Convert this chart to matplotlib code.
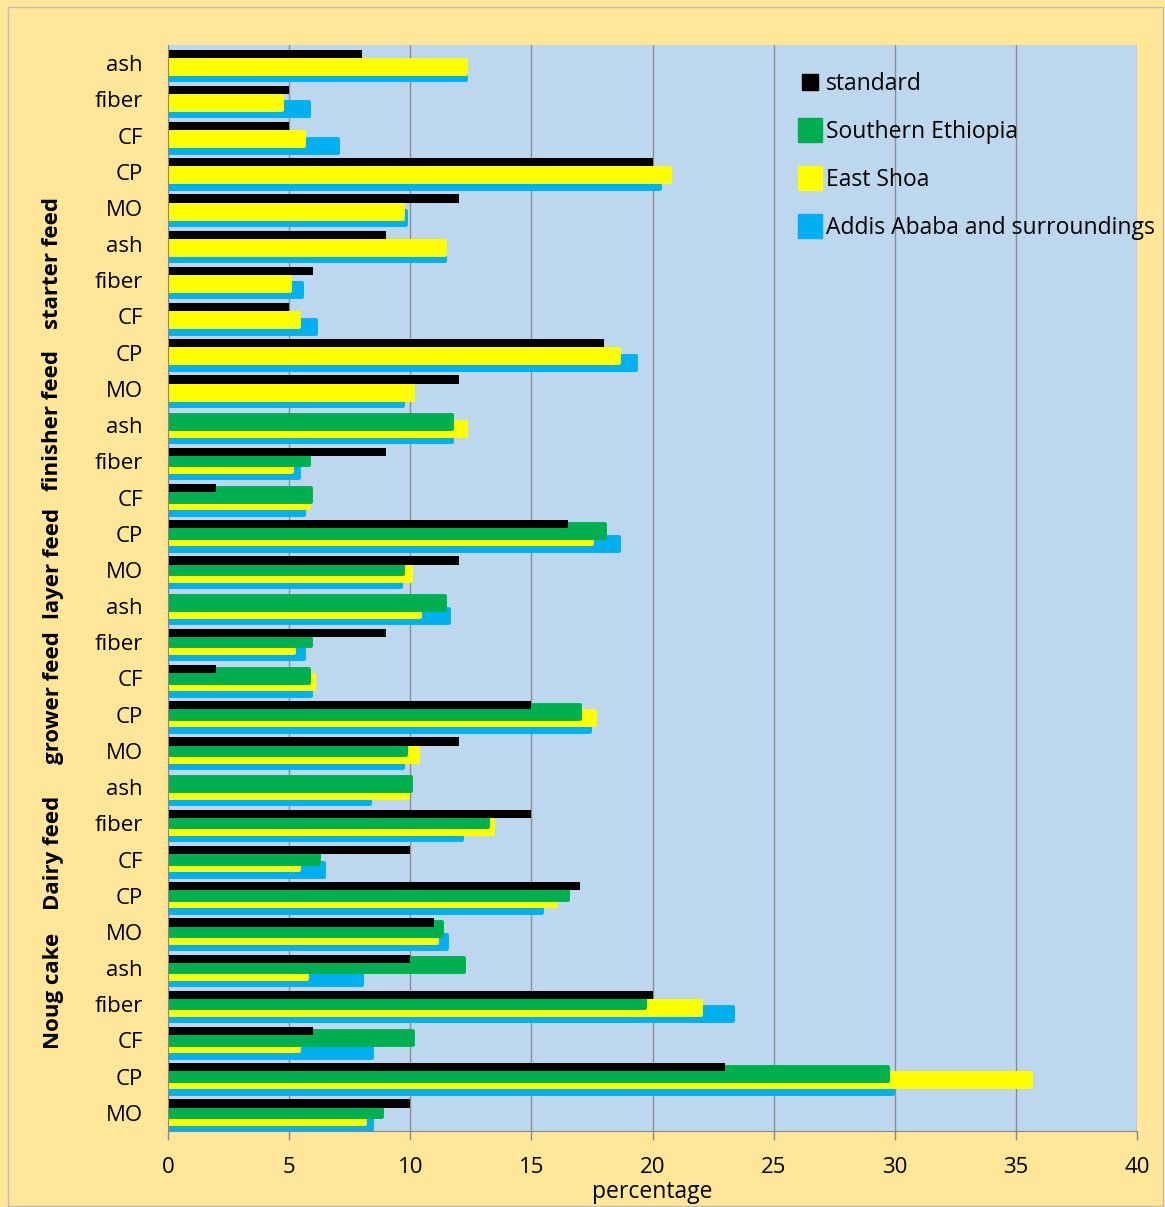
import numpy as np
import matplotlib
matplotlib.use('Agg')
import matplotlib.pyplot as plt
from matplotlib.lines import Line2D
from matplotlib.patches import Rectangle

plt.rcParams['font.family'] = ['Open Sans', 'DejaVu Sans']

# categories from bottom to top
groups = ['Noug cake', 'Dairy feed', 'grower feed', 'layer feed', 'finisher feed', 'starter feed']
items = ['MO', 'CP', 'CF', 'fiber', 'ash']
labels = items * len(groups)

standard = [10, 23, 6, 20, 10,
            11, 17, 10, 15, 0,
            12, 15, 2, 9, 0,
            12, 16.5, 2, 9, 0,
            12, 18, 5, 6, 9,
            12, 20, 5, 5, 8]
southern = [8.9, 29.8, 10.2, 19.75, 12.3,
            11.4, 16.6, 6.3, 13.3, 10.1,
            9.9, 17.1, 5.9, 6.0, 11.5,
            9.8, 18.1, 6.0, 5.9, 11.8,
            0, 0, 0, 0, 0,
            0, 0, 0, 0, 0]
east_shoa = [8.2, 35.7, 5.5, 22.1, 5.8,
             11.2, 16.1, 5.5, 13.5, 10.0,
             10.4, 17.7, 6.1, 5.3, 10.5,
             10.1, 17.6, 5.9, 5.2, 12.4,
             10.2, 18.7, 5.5, 5.1, 11.5,
             9.8, 20.8, 5.7, 4.8, 12.4]
addis = [8.5, 30.0, 8.5, 23.4, 8.1,
         11.6, 15.5, 6.5, 12.2, 8.4,
         9.8, 17.5, 6.0, 5.7, 11.7,
         9.7, 18.7, 5.7, 5.5, 11.8,
         9.8, 19.4, 6.2, 5.6, 11.5,
         9.9, 20.4, 7.1, 5.9, 12.4]

# where excel put the group names (data units)
group_pos = [3.37, 7.18, 11.46, 15.17, 19.12, 23.48]

c_black = '#000000'
c_green = '#00B050'
c_yellow = '#FFFF00'
c_blue = '#00B0F0'
bg_fig = '#FFE699'
bg_ax = '#BDD7EE'

fig = plt.figure(figsize=(11.65, 12.07), dpi=100, facecolor=bg_fig)
ax = fig.add_axes([168/1165, 1-1131/1207, (1137-168)/1165, (1131-45)/1207])
ax.set_facecolor(bg_ax)

y = np.arange(len(labels))
h = 0.49 - 0.1   # edge line adds the rest, gives the rounded ends
lw = 2.8
def bars(offset, vals, col, z):
    # shave off half the edge so the bar ends where the value is
    w = np.array(vals, dtype=float)
    w = np.where(w > 0, w - 0.08, 0)
    b = ax.barh(y + offset, w, height=h, color=col, edgecolor=col, linewidth=lw, zorder=z)
    for r, v in zip(b, vals):
        r.set_joinstyle('round')
        if v == 0:
            r.set_visible(False)

bars(-0.28, addis, c_blue, 2)
bars(-0.10, east_shoa, c_yellow, 3)
bars(0.08, southern, c_green, 4)
ax.barh(y + 0.26, standard, height=0.23, color=c_black, zorder=5)

ax.set_ylim(-0.5, len(labels) - 0.5)
ax.set_xlim(0, 40)
ax.set_xticks(np.arange(0, 41, 5))
ax.set_yticks(y)
ax.set_yticklabels(labels, fontsize=16)
ax.tick_params(axis='y', length=0, pad=18)
ax.tick_params(axis='x', length=6.5, width=1, color='#868686', pad=12, labelsize=16)
ax.grid(axis='x', color='#8C8C8C', linewidth=1, zorder=1)
ax.set_axisbelow(True)
for s in ['top', 'right']:
    ax.spines[s].set_visible(False)
for s in ['left', 'bottom']:
    ax.spines[s].set_color('#868686')
    ax.spines[s].set_zorder(6)
ax.set_xlabel('percentage', fontsize=16.5, labelpad=2)

# group names, rotated
for g, p in zip(groups, group_pos):
    ax.text((53-168)/969, p, g, transform=ax.get_yaxis_transform(), rotation=90,
            ha='center', va='center', fontsize=16, fontweight='bold')

handles = [Line2D([], [], marker='s', ls='none', color=c_black, markersize=12),
           Line2D([], [], marker='s', ls='none', color=c_green, markersize=17),
           Line2D([], [], marker='s', ls='none', color=c_yellow, markersize=17),
           Line2D([], [], marker='s', ls='none', color=c_blue, markersize=17)]
fig.legend(handles, ['standard', 'Southern Ethiopia', 'East Shoa', 'Addis Ababa and surroundings'],
           loc='upper left', bbox_to_anchor=(797/1165, 1-72/1207), frameon=False,
           fontsize=16.5, handlelength=1.15, handletextpad=0.1, labelspacing=1.05,
           borderpad=0, borderaxespad=0)

# thin border round the chart
fig.patches.append(Rectangle((7.5/1165, 1-1206/1207), (1163-7.5)/1165, (1206-7)/1207,
                             transform=fig.transFigure, fill=False, edgecolor='#BFBFBF', lw=1))

fig.savefig('out.png', dpi=100, facecolor=bg_fig)
